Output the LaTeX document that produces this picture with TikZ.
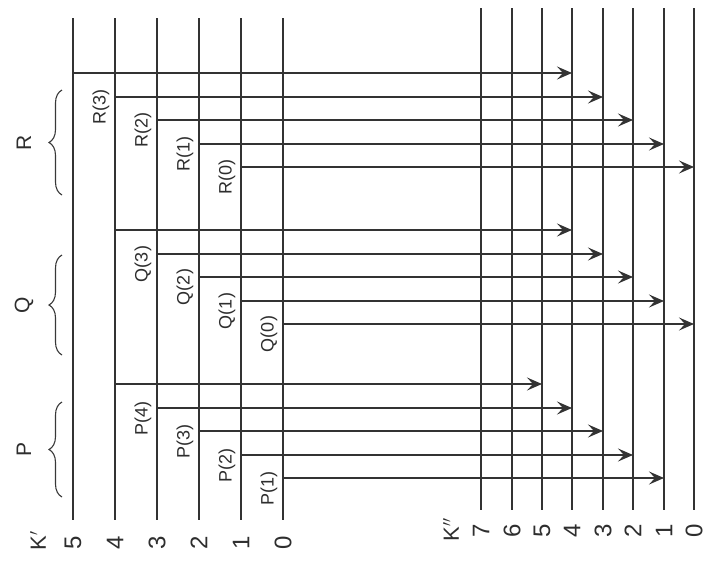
\documentclass[tikz,border=0pt]{standalone}
\usepackage{fontspec}
\setmainfont{Liberation Sans}
\usetikzlibrary{arrows.meta,decorations.pathreplacing}

\begin{document}
\begin{tikzpicture}[x=1pt, y=-1pt,
  lvl/.style={line width=1.35pt, draw=black!80},
  arr/.style={line width=1.35pt, draw=black!80, -{Stealth[length=15pt, width=13pt, inset=6pt]}},
  num/.style={rotate=90, font=\fontsize{24}{24}\selectfont, text=black!82, inner sep=1pt},
  sub/.style={rotate=90, font=\fontsize{18}{18}\selectfont, text=black!82, inner sep=1pt},
  grp/.style={rotate=90, font=\fontsize{21}{21}\selectfont, text=black!82, inner sep=1pt},
  brc/.style={line width=1.1pt, draw=black!78, decorate, decoration={brace, amplitude=13pt}}]
\useasboundingbox[fill=white] (0,0) rectangle (707,560);
% levels of K'
\foreach \k/\x in {0/283,1/241,2/199,3/157,4/115,5/73} {
  \coordinate (kpt\k) at (\x,18);
  \coordinate (kpb\k) at (\x,520);
  \draw[lvl] (kpt\k) -- (kpb\k);
  \node[num] (kpn\k) at (\x,543) {\k};
}
\node[grp, font=\fontsize{22}{22}\selectfont] (kplab) at (38,541) {K$'$};
% levels of K''
\foreach \k/\x in {0/694,1/664,2/633,3/603,4/572,5/542,6/512,7/481} {
  \coordinate (kppt\k) at (\x,8);
  \coordinate (kppb\k) at (\x,510);
  \draw[lvl] (kppt\k) -- (kppb\k);
  \node[num] (kppn\k) at (\x,531) {\k};
}
\node[grp, font=\fontsize{22}{22}\selectfont] (kpplab) at (451,530) {K$''$};
% shifts of each group
\foreach \g/\s/\d/\yo in {R/5/4/73, Q/4/4/230, P/4/5/384} {
  \foreach \j in {0,...,4} {
    \pgfmathtruncatemacro\a{\s-\j}
    \pgfmathtruncatemacro\b{\d-\j}
    \pgfmathtruncatemacro\yy{round(\yo+23.5*\j)}
    \coordinate (\g\b s) at (kpt\a |- 0,\yy);
    \draw[arr] (\g\b s) -- (\g\b s -| kppt\b);
    \ifnum\j>0
      \node[xshift=-14pt, yshift=-10pt, sub] (lab\g\b) at (\g\b s) {\g(\b)};
    \fi
  }
}
% braces
\foreach \g/\yb/\yt in {R/195/90, Q/355/255, P/497/402} {
  \coordinate (br\g b) at (62,\yb);
  \coordinate (br\g t) at (62,\yt);
  \draw[brc] (br\g b) -- node[xshift=-38pt, grp] (grp\g) {\g} (br\g t);
}
\end{tikzpicture}
\end{document}
